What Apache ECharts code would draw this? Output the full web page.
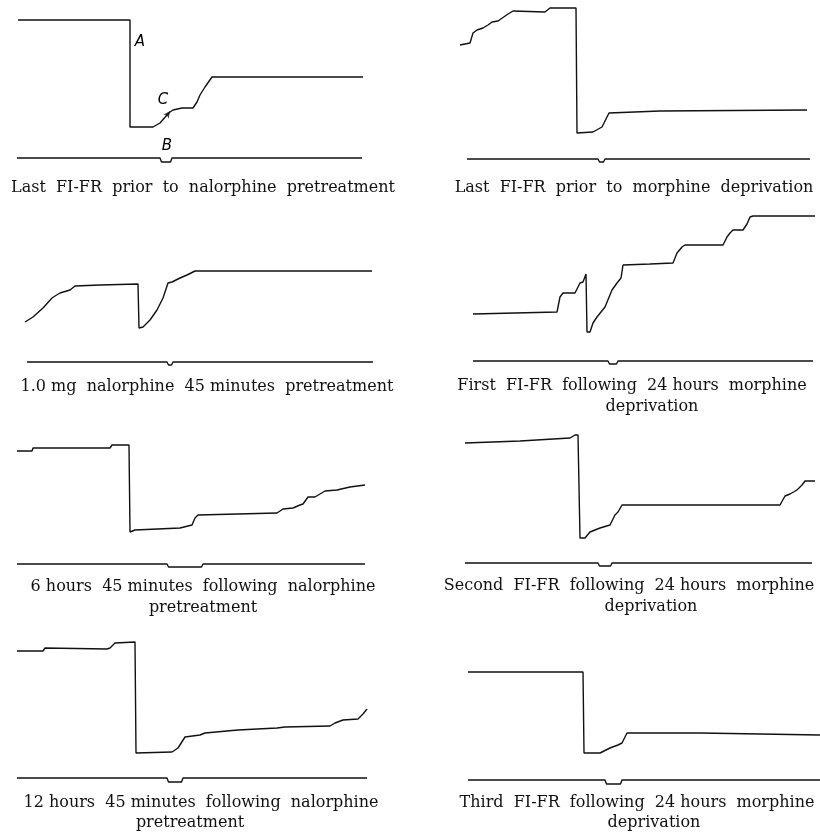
<!DOCTYPE html>
<html>
<head>
<meta charset="utf-8">
<script src="https://cdn.jsdelivr.net/npm/echarts@6/dist/echarts.min.js"></script>
<style>html,body{margin:0;padding:0;background:#fff}#c{width:820px;height:833px}</style>
</head>
<body>
<div id="c"></div>
<script>
// Cumulative records: [time, cumulative responses above event-pen line]
const rec1 = [[3,138],[115,138],[115,31],[117,31],[138,31],[145,35],[152,43],[155,46],[158,48],[167,50],[178,50],[182,56],[185,63],[190,71],[197,81],[348,81]];
const rec2 = [[5,114],[15,116],[18,126],[22,129],[28,131],[33,134],[37,137],[43,138],[53,145],[58,148],[90,147],[95,151],[121,151],[122,26],[138,27],[147,32],[152,42],[154,46],[205,48],[352,49]];
const rec3 = [[10,40],[18,45],[28,54],[37,64],[40,66],[45,69],[55,72],[60,76],[85,77],[123,78],[124,34],[128,35],[135,42],[142,52],[148,64],[153,79],[157,80],[165,84],[172,87],[180,91],[357,91]];
const rec4 = [[18,47],[102,49],[105,64],[108,68],[120,68],[125,78],[128,79],[131,87],[132,29],[135,29],[138,38],[142,44],[150,54],[157,71],[162,78],[166,83],[168,96],[195,97],[218,98],[222,108],[227,114],[230,116],[268,116],[272,124],[275,128],[278,131],[288,131],[292,137],[295,144],[298,145],[360,145]];
const rec5 = [[2,113],[17,113],[18,116],[95,116],[97,119],[114,119],[115,32],[120,34],[165,36],[177,39],[180,46],[183,49],[262,51],[268,55],[278,56],[285,59],[288,60],[293,67],[300,67],[310,73],[322,74],[335,77],[350,79]];
const rec6 = [[10,120],[65,122],[115,125],[120,128],[123,128],[125,25],[130,25],[135,31],[145,35],[155,38],[160,48],[163,51],[167,58],[325,58],[330,67],[335,69],[342,73],[347,78],[350,82],[360,82]];
const rec7 = [[2,127],[28,127],[30,130],[92,129],[95,130],[100,135],[120,136],[121,25],[157,26],[163,30],[170,41],[185,43],[190,45],[223,48],[262,50],[270,51],[315,52],[320,55],[328,58],[343,59],[348,64],[352,69]];
const rec8 = [[13,108],[128,108],[129,27],[145,27],[155,32],[163,35],[167,37],[172,47],[245,47],[365,45]];

// Event pen: [start, dipStart, dipEnd, end, depth]
const pen1 = [2,145,157,347,-4];
const pen2 = [12,143,150,355,-3];
const pen3 = [12,152,158,358,-3];
const pen4 = [18,153,163,358,-3];
const pen5 = [2,152,188,350,-3];
const pen6 = [10,143,157,357,-3];
const pen7 = [2,152,168,352,-4];
const pen8 = [13,150,167,365,-4];

// Marker letters on the first record: [letter, time, responses]
const letters1 = [['A',125,116],['C',148,58],['B',152,12]];

const captions1 = ['Last  FI-FR  prior  to  nalorphine  pretreatment'];
const captions2 = ['Last  FI-FR  prior  to  morphine  deprivation'];
const captions3 = ['1.0 mg  nalorphine  45 minutes  pretreatment'];
const captions4 = ['First  FI-FR  following  24 hours  morphine','deprivation'];
const captions5 = ['6 hours  45 minutes  following  nalorphine','pretreatment'];
const captions6 = ['Second  FI-FR  following  24 hours  morphine','deprivation'];
const captions7 = ['12 hours  45 minutes  following  nalorphine','pretreatment'];
const captions8 = ['Third  FI-FR  following  24 hours  morphine','deprivation'];

const recs = [rec1,rec2,rec3,rec4,rec5,rec6,rec7,rec8];
const pens = [pen1,pen2,pen3,pen4,pen5,pen6,pen7,pen8];
const caps = [captions1,captions2,captions3,captions4,captions5,captions6,captions7,captions8];

// layout
const colLeft = [15, 455];
const colW = [360, 365];
const penY = [158,159,362,361,564,563,778,780];
const capPos = [
  [[203,188]],
  [[634,188]],
  [[207,387]],
  [[632,386],[652,407]],
  [[203,587],[203,608]],
  [[629,586],[651,607]],
  [[201,803],[190,823]],
  [[637,803],[654,823]]
];

function penData(p){
  return [[p[0],0],[p[1],0],[p[1]+1.5,p[4]],[p[2]-1.5,p[4]],[p[2],0],[p[3],0]];
}

const grids=[], xAxes=[], yAxes=[], series=[], graphics=[];
for (let i=0;i<8;i++){
  const col=i%2;
  grids.push({left:colLeft[col], top:penY[i]-155, width:colW[col], height:165, containLabel:false});
  xAxes.push({type:'value', gridIndex:i, min:0, max:colW[col], show:false});
  yAxes.push({type:'value', gridIndex:i, min:-10, max:155, show:false});
  series.push({type:'line', xAxisIndex:i, yAxisIndex:i, data:recs[i], showSymbol:false, symbol:'none',
    lineStyle:{color:'#111', width:1.4}, animation:false, silent:true, z:3});
  series.push({type:'line', xAxisIndex:i, yAxisIndex:i, data:penData(pens[i]), showSymbol:false, symbol:'none',
    lineStyle:{color:'#111', width:1.35}, animation:false, silent:true});
  caps[i].forEach((t,j)=>{
    graphics.push({type:'text', x:capPos[i][j][0], y:capPos[i][j][1], silent:true,
      style:{text:t, font:'16px "DejaVu Serif"', fill:'#111', textAlign:'center', textVerticalAlign:'middle', align:'center', verticalAlign:'middle'}});
  });
}
// letters A, B, C
series.push({type:'scatter', xAxisIndex:0, yAxisIndex:0,
  data:letters1.map(l=>({value:[l[1],l[2]], name:l[0]})),
  symbol:'circle', symbolSize:1, itemStyle:{color:'#fff', opacity:0},
  label:{show:true, position:'inside', formatter:'{b}', color:'#000', opacity:1, textBorderWidth:0,
    fontFamily:'DejaVu Sans', fontStyle:'italic', fontSize:15},
  emphasis:{disabled:true},
  animation:false, silent:true, z:5});
// small arrow at C on first record
series.push({type:'scatter', xAxisIndex:0, yAxisIndex:0, data:[[155,47]], symbol:'arrow', symbolSize:[5,7], symbolRotate:-35,
  itemStyle:{color:'#111'}, animation:false, silent:true});

const chart = echarts.init(document.getElementById('c'), null, {renderer:'canvas'});
chart.setOption({backgroundColor:'#fff', animation:false, grid:grids, xAxis:xAxes, yAxis:yAxes, series:series, graphic:graphics});
</script>
</body>
</html>
